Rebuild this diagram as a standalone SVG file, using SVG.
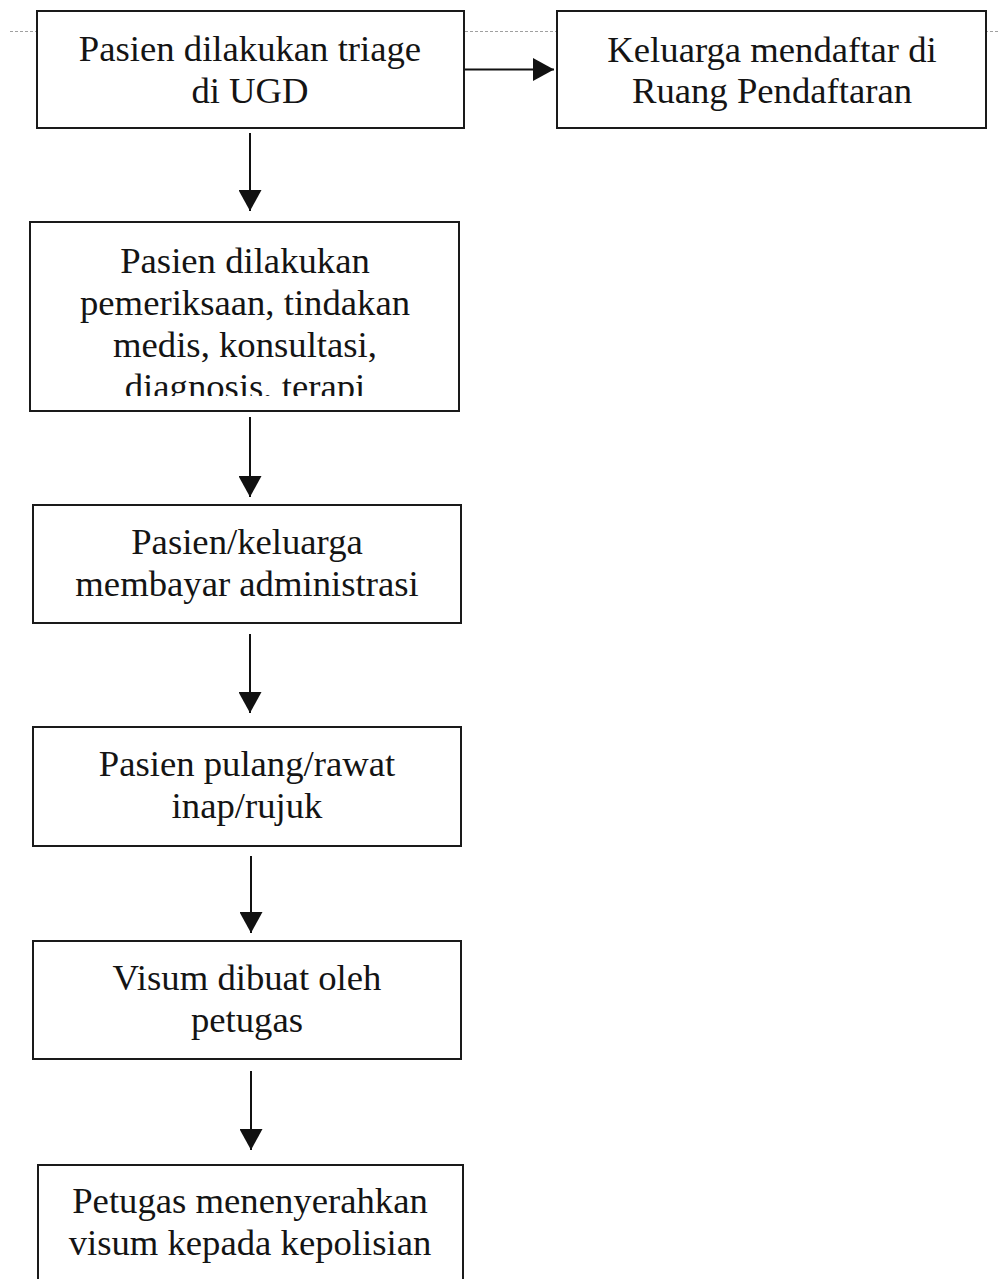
<svg xmlns="http://www.w3.org/2000/svg" width="998" height="1279" viewBox="0 0 998 1279">
  <style>
    .box { fill: #ffffff; stroke: #1a1a1a; stroke-width: 2; }
    .lbl { font-family: "Liberation Serif", "Times New Roman", serif; font-size: 36.7px; fill: #141414; text-anchor: middle; }
    .conn { stroke: #111111; stroke-width: 2; fill: none; marker-end: url(#arrow); }
    .guide { stroke: #a0a0a0; stroke-width: 1; stroke-dasharray: 3 2; fill: none; }
  </style>
  <defs>
    <marker id="arrow" markerUnits="userSpaceOnUse" markerWidth="22" markerHeight="23" refX="21" refY="11.5" orient="auto">
      <path d="M0,0 L21,11.5 L0,23 Z" fill="#111111"/>
    </marker>
    <clipPath id="clip3">
      <rect x="30" y="222" width="429" height="174"/>
    </clipPath>
  </defs>
  <rect width="998" height="1279" fill="#ffffff"/>
  <line class="guide" x1="10" y1="31.5" x2="998" y2="31.5"/>

  <g id="connectors">
    <line class="conn" x1="465" y1="69.5" x2="554" y2="69.5"/>
    <line class="conn" x1="250" y1="133" x2="250" y2="211"/>
    <line class="conn" x1="250" y1="417" x2="250" y2="497"/>
    <line class="conn" x1="250" y1="634" x2="250" y2="713"/>
    <line class="conn" x1="251" y1="856" x2="251" y2="933"/>
    <line class="conn" x1="251" y1="1071" x2="251" y2="1150"/>
  </g>

  <g id="node1">
    <rect class="box" x="37" y="11" width="427" height="117"/>
    <text class="lbl" x="250" y="61">Pasien dilakukan triage</text>
    <text class="lbl" x="250" y="103">di UGD</text>
  </g>
  <g id="node2">
    <rect class="box" x="557" y="11" width="429" height="117"/>
    <text class="lbl" x="772" y="62">Keluarga mendaftar di</text>
    <text class="lbl" x="772" y="103">Ruang Pendaftaran</text>
  </g>
  <g id="node3">
    <rect class="box" x="30" y="222" width="429" height="189"/>
    <g clip-path="url(#clip3)">
      <text class="lbl" x="245" y="273">Pasien dilakukan</text>
      <text class="lbl" x="245" y="315">pemeriksaan, tindakan</text>
      <text class="lbl" x="245" y="357">medis, konsultasi,</text>
      <text class="lbl" x="245" y="399">diagnosis, terapi</text>
    </g>
  </g>
  <g id="node4">
    <rect class="box" x="33" y="505" width="428" height="118"/>
    <text class="lbl" x="247" y="554">Pasien/keluarga</text>
    <text class="lbl" x="247" y="596">membayar administrasi</text>
  </g>
  <g id="node5">
    <rect class="box" x="33" y="727" width="428" height="119"/>
    <text class="lbl" x="247" y="776">Pasien pulang/rawat</text>
    <text class="lbl" x="247" y="818">inap/rujuk</text>
  </g>
  <g id="node6">
    <rect class="box" x="33" y="941" width="428" height="118"/>
    <text class="lbl" x="247" y="990">Visum dibuat oleh</text>
    <text class="lbl" x="247" y="1032">petugas</text>
  </g>
  <g id="node7">
    <rect class="box" x="38" y="1165" width="425" height="130"/>
    <text class="lbl" x="250" y="1213">Petugas menenyerahkan</text>
    <text class="lbl" x="250" y="1255">visum kepada kepolisian</text>
  </g>
</svg>
